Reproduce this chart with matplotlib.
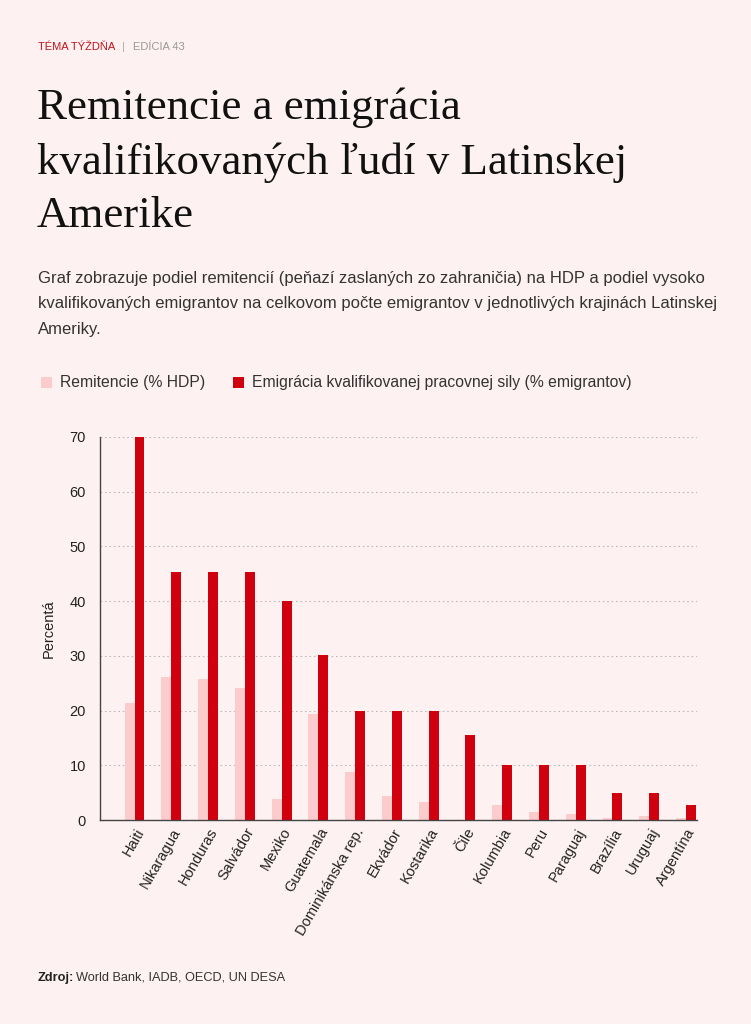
import numpy as np
import matplotlib.pyplot as plt

krajiny = ["Haiti", "Nikaragua", "Honduras", "Salvádor", "Mexiko", "Guatemala",
           "Dominikánska rep.", "Ekvádor", "Kostarika", "Čile", "Kolumbia", "Peru",
           "Paraguaj", "Brazília", "Uruguaj", "Argentína"]
remitencie = [21.4, 26.2, 25.7, 24.1, 3.8, 19.4, 8.7, 4.3, 3.2, 0.0, 2.7, 1.5, 1.1, 0.4, 0.8, 0.4]
emigracia = [70, 45.3, 45.3, 45.3, 40, 30.2, 20, 20, 20, 15.6, 10, 10, 10, 5, 5, 2.8]
y_ticks = [0, 10, 20, 30, 40, 50, 60, 70]

BG = "#fef1f1"
RED = "#d0000f"
PINK = "#fccbcb"
SANS = ["Liberation Sans", "DejaVu Sans"]
SERIF = ["Liberation Serif", "DejaVu Serif"]

plt.rcParams['font.family'] = SANS

fig = plt.figure(figsize=(7.51, 10.24), dpi=100, facecolor=BG)

# hlavička
fig.text(38/751, 1 - 47/1024, "TÉMA TÝŽDŇA", color="#c0141c", fontsize=8, va="center")
fig.text(122/751, 1 - 47/1024, "|", color="#aaaaaa", fontsize=8, va="center")
fig.text(133/751, 1 - 47/1024, "EDÍCIA 43", color="#999999", fontsize=8, va="center")

fig.text(37/751, 1 - 88/1024, "Remitencie a emigrácia\nkvalifikovaných ľudí v Latinskej\nAmerike",
         family=SERIF, fontsize=32.3, color="#111111", va="top", linespacing=1.43)

fig.text(38/751, 1 - 271/1024,
         "Graf zobrazuje podiel remitencií (peňazí zaslaných zo zahraničia) na HDP a podiel vysoko\n"
         "kvalifikovaných emigrantov na celkovom počte emigrantov v jednotlivých krajinách Latinskej\n"
         "Ameriky.",
         fontsize=12, color="#333333", va="top", linespacing=1.87)

ax = fig.add_axes([100/751, 1 - 820/1024, 597/751, 383/1024])
ax.set_facecolor(BG)

x = np.arange(len(krajiny))
w = 0.27
ax.bar(x - w/2, remitencie, w, color=PINK, label="Remitencie (% HDP)", zorder=2)
ax.bar(x + w/2, emigracia, w, color=RED, label="Emigrácia kvalifikovanej pracovnej sily (% emigrantov)", zorder=2)

ax.set_xlim(-0.94, 15.3)
ax.set_ylim(0, 70)
ax.set_yticks(y_ticks)
ax.set_xticks(x)
ax.set_xticklabels(krajiny, rotation=60, ha="right", rotation_mode="anchor", fontsize=10.5, color="#222222")
ax.tick_params(axis="y", labelsize=10.5, labelcolor="#222222", length=0, pad=10)
ax.tick_params(axis="x", length=0, pad=4)
ax.yaxis.grid(True, linestyle=(0, (1.5, 2.5)), color="#bbbbbb", linewidth=0.8, zorder=0)
ax.set_axisbelow(True)
for s in ["top", "right"]:
    ax.spines[s].set_visible(False)
for s in ["left", "bottom"]:
    ax.spines[s].set_color("#444444")
    ax.spines[s].set_linewidth(1.0)
ax.set_ylabel("Percentá", fontsize=10.5, color="#222222", labelpad=10)

fig.legend(loc="center left", bbox_to_anchor=(27/751, 1 - 383/1024), ncol=2, frameon=False,
           fontsize=11.3, handlelength=0.7, handleheight=0.7, handletextpad=0.5, columnspacing=1.8,
           labelcolor="#333333")

fig.text(38/751, 1 - 978/1024, "Zdroj:", fontsize=9.2, weight="bold", color="#222222", va="center")
fig.text(76/751, 1 - 978/1024, "World Bank, IADB, OECD, UN DESA", fontsize=9.2, color="#333333", va="center")

fig.savefig("out.png", dpi=100, facecolor=BG)
